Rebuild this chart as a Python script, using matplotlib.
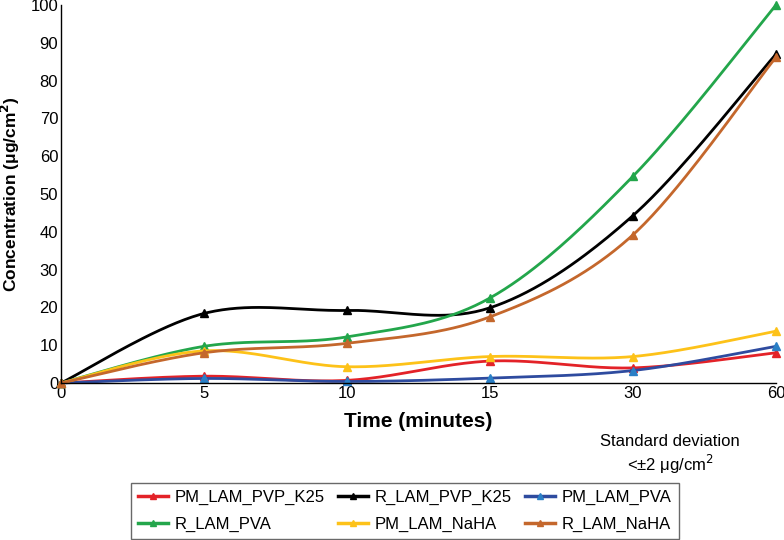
import numpy as np
import matplotlib
matplotlib.use("Agg")
import matplotlib.pyplot as plt
from matplotlib.lines import Line2D

plt.rcParams['font.family'] = ['Liberation Sans', 'DejaVu Sans']

# --------- data ----------
time_labels = ['0', '5', '10', '15', '30', '60']
pm_lam_pvp_k25 = [0, 1.8, 0.7, 5.8, 4.0, 8.0]
r_lam_pvp_k25 = [0, 18.4, 19.2, 19.9, 44.3, 87.0]
pm_lam_pva = [0, 1.2, 0.4, 1.3, 3.3, 9.7]
r_lam_pva = [0, 9.7, 12.2, 22.5, 54.7, 100.0]
pm_lam_naha = [0, 8.5, 4.3, 7.0, 7.0, 13.7]
r_lam_naha = [0, 8.0, 10.5, 17.5, 39.2, 86.2]

series = [
    ("PM_LAM_PVP_K25", pm_lam_pvp_k25, '#e32228', '#e32228'),
    ("R_LAM_PVP_K25", r_lam_pvp_k25, '#000000', '#000000'),
    ("PM_LAM_PVA", pm_lam_pva, '#2e4b9f', '#2a7fc6'),
    ("R_LAM_PVA", r_lam_pva, '#23a64b', '#23a64b'),
    ("PM_LAM_NaHA", pm_lam_naha, '#fdc219', '#fdc219'),
    ("R_LAM_NaHA", r_lam_naha, '#c4672c', '#c4672c'),
]


def smooth(xs, ys, n=40):
    # Excel-like smoothing: Catmull-Rom through every point
    pts = np.column_stack([xs, ys]).astype(float)
    ext = np.vstack([pts[0], pts, pts[-1]])
    out = []
    t = np.linspace(0, 1, n)[:, None]
    for i in range(len(pts) - 1):
        p0, p1, p2, p3 = ext[i], ext[i + 1], ext[i + 2], ext[i + 3]
        c1 = p1 + (p2 - p0) / 6
        c2 = p2 - (p3 - p1) / 6
        seg = ((1 - t) ** 3) * p1 + 3 * ((1 - t) ** 2) * t * c1 + 3 * (1 - t) * t ** 2 * c2 + t ** 3 * p2
        out.append(seg if i == 0 else seg[1:])
    seg = np.vstack(out)
    return seg[:, 0], seg[:, 1]


fig = plt.figure(figsize=(7.84, 5.40), dpi=100)
ax = fig.add_axes([61 / 784, 1 - 383 / 540, (776 - 61) / 784, (383 - 5) / 540])

x = np.arange(len(time_labels))
handles = {}
for name, vals, lc, mc in series:
    sx, sy = smooth(x, vals)
    ax.plot(sx, sy, color=lc, lw=2.0, clip_on=False, solid_capstyle='round')
    ax.plot(x, vals, ls='none', marker='^', ms=5.5, color=mc, clip_on=False)
    handles[name] = Line2D([], [], color=lc, lw=2.5, marker='^', ms=5,
                           markerfacecolor=mc, markeredgecolor=mc)

ax.set_xlim(0, len(time_labels) - 1)
ax.set_ylim(0, 100)
ax.set_xticks(x)
ax.set_xticklabels(time_labels)
ax.set_yticks(np.arange(0, 101, 10))
ax.tick_params(length=0, labelsize=12, pad=2)
for s in ['top', 'right']:
    ax.spines[s].set_visible(False)
ax.spines['left'].set_linewidth(1.0)
ax.spines['bottom'].set_linewidth(1.0)

ax.set_xlabel("Time (minutes)", fontsize=15, fontweight='bold', labelpad=8)
ax.set_ylabel("Concentration (μg/cm$^{\\mathbf{2}}$)", fontsize=12.5, fontweight='bold')
ax.yaxis.set_label_coords(-39 / 715, 0.5)

fig.text(670 / 784, 1 - 442 / 540, "Standard deviation", ha='center', va='center', fontsize=12)
fig.text(670 / 784, 1 - 464 / 540, "<±2 μg/cm$^{2}$", ha='center', va='center', fontsize=12)

order = ["PM_LAM_PVP_K25", "R_LAM_PVA", "R_LAM_PVP_K25", "PM_LAM_NaHA", "PM_LAM_PVA", "R_LAM_NaHA"]
leg = fig.legend([handles[k] for k in order], order, ncol=3, loc='lower center',
                 bbox_to_anchor=(405 / 784, 1 / 540), borderaxespad=0, fontsize=12, frameon=True,
                 fancybox=False, edgecolor='#444444', handlelength=1.8, handletextpad=0.4,
                 columnspacing=0.8, borderpad=0.4, labelspacing=0.75)
leg.get_frame().set_linewidth(1.0)

fig.savefig("out.png", dpi=100)
